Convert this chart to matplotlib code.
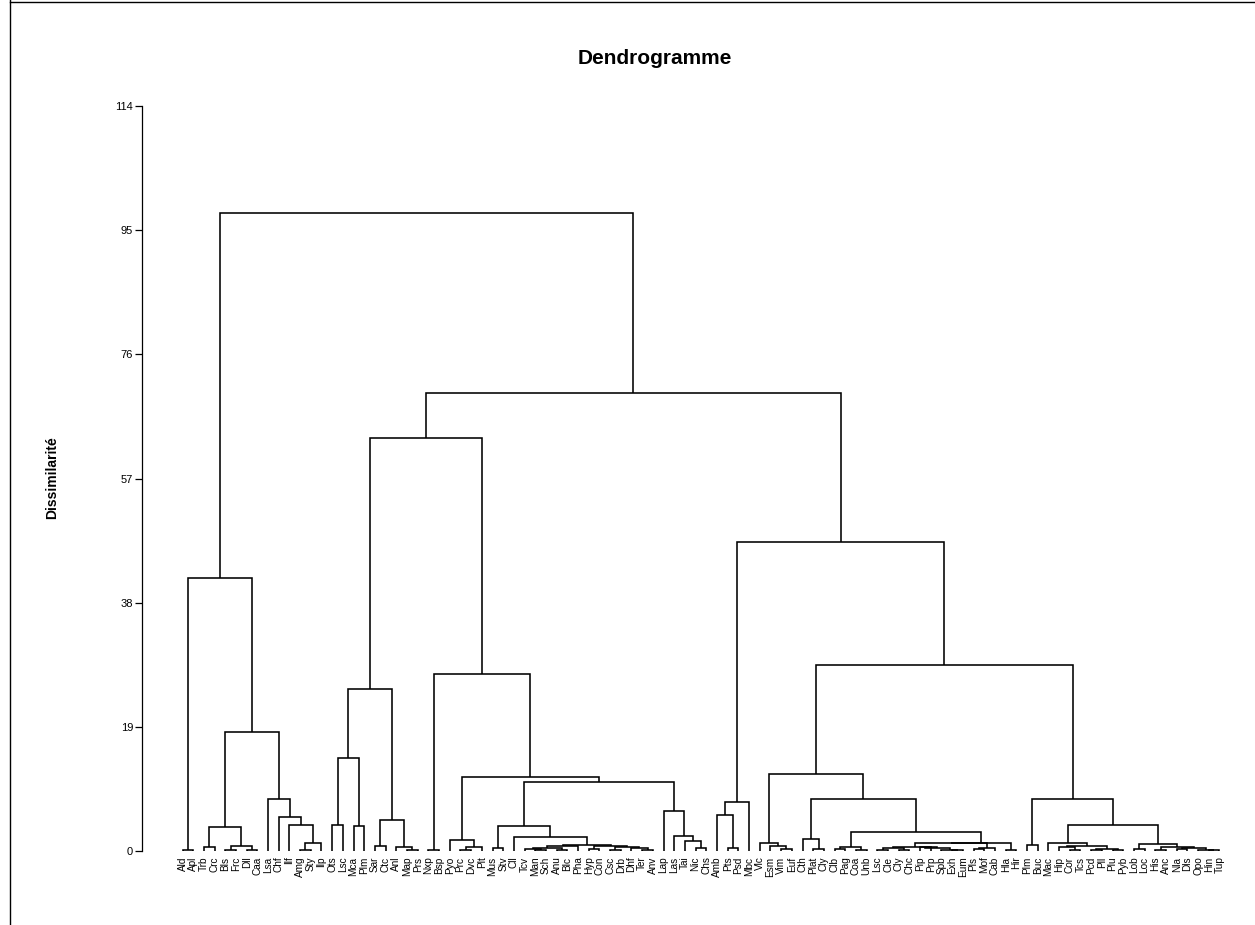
import matplotlib
matplotlib.use("Agg")
import matplotlib.pyplot as plt

plt.rcParams['font.family'] = ['Liberation Sans', 'DejaVu Sans']

title = "Dendrogramme"
ylabel = "Dissimilarité"
yticks = [0, 19, 38, 57, 76, 95, 114]

leaf_labels = [
    "Ald", "Apl", "Trb", "Crc", "Bls", "Frc", "Dll", "Caa", "Lsa", "Chf",
    "Ilf", "Amg", "Sty", "Ilp", "Ots", "Lsc", "Mca", "Plm", "Sar", "Ctc",
    "Anl", "Map", "Prs", "Nxp", "Bsp", "Pyo", "Prc", "Dvc", "Plt", "Mus",
    "Stv", "Cll", "Tcv", "Man", "Sch", "Anu", "Blc", "Pha", "Hyp", "Con",
    "Csc", "Drb", "Dhf", "Ter", "Anv", "Lap", "Las", "Tai", "Nic", "Chs",
    "Amb", "Pts", "Psd", "Mbc", "Vlc", "Esm", "Vim", "Euf", "Cth", "Plat",
    "Cly", "Clb", "Pag", "Coa", "Unb", "Lsc", "Cle", "Cly", "Chc", "Pip",
    "Prp", "Spb", "Exh", "Eum", "Pls", "Mof", "Cab", "Hla", "Hir", "Plm",
    "Buc", "Mac", "Hip", "Cor", "Tcs", "Pcd", "Pll", "Plu", "Pyb", "Lob",
    "Loc", "His", "Anc", "Nla", "Dls", "Opo", "Hin", "Tup",
]

# merges: (name, left, right, height); int = leaf index, str = earlier merge
merges_a = [
    ("a0", 0, 1, 0.1), ("a1", 2, 3, 0.66), ("a2", 4, 5, 0.1), ("a3", 6, 7, 0.15),
    ("a4", "a2", "a3", 0.76), ("a5", "a1", "a4", 3.6), ("a6", 11, 12, 0.1),
    ("a7", "a6", 13, 1.27), ("a8", 10, "a7", 4.0), ("a9", 9, "a8", 5.2),
    ("a10", 8, "a9", 8.0), ("a11", "a5", "a10", 18.2), ("a12", "a0", "a11", 41.8),
]
merges_b = [
    ("b0", 14, 15, 4.0), ("b1", 16, 17, 3.8), ("b2", "b0", "b1", 14.3),
    ("b3", 18, 19, 0.76), ("b4", 21, 22, 0.2), ("b5", 20, "b4", 0.56),
    ("b6", "b3", "b5", 4.8), ("b7", "b2", "b6", 24.8),
]
merges_c = [
    ("c0", 23, 24, 0.2), ("c1", 26, 27, 0.2), ("c2", "c1", 28, 0.65),
    ("c3", 25, "c2", 1.7), ("c4", 29, 30, 0.4), ("c5", 33, 34, 0.15),
    ("c6", 32, "c5", 0.35), ("c7", 35, 36, 0.2), ("c8", "c6", "c7", 0.5),
    ("c9", "c8", 37, 0.75), ("c10", 38, 39, 0.3), ("c11", 40, 41, 0.15),
    ("c12", 43, 44, 0.2), ("c13", 42, "c12", 0.4), ("c14", "c11", "c13", 0.55),
    ("c15", "c10", "c14", 0.7), ("c16", "c9", "c15", 0.95), ("c17", 31, "c16", 2.2),
    ("c18", "c4", "c17", 3.8), ("c19", 48, 49, 0.5), ("c20", 47, "c19", 1.5),
    ("c21", 46, "c20", 2.3), ("c22", 45, "c21", 6.1), ("c23", "c18", "c22", 10.5),
    ("c24", "c3", "c23", 11.4), ("c25", "c0", "c24", 27.1), ("c26", "b7", "c25", 63.2),
]
merges_d = [
    ("d0", 51, 52, 0.4), ("d1", 50, "d0", 5.5), ("d2", "d1", 53, 7.5),
    ("d3", 56, 57, 0.25), ("d4", 55, "d3", 0.76), ("d5", 54, "d4", 1.15),
    ("d6", 59, 60, 0.3), ("d7", 58, "d6", 1.9), ("d8", 61, 62, 0.3),
    ("d9", 63, 64, 0.1), ("d10", "d8", "d9", 0.55), ("d11", 65, 66, 0.1),
    ("d12", 67, 68, 0.15), ("d13", "d11", "d12", 0.4), ("d14", 69, 70, 0.6),
    ("d15", 72, 73, 0.1), ("d16", 71, "d15", 0.2), ("d17", "d14", "d16", 0.45),
    ("d18", "d13", "d17", 0.55), ("d19", 74, 75, 0.3), ("d20", "d19", 76, 0.45),
    ("d21", "d18", "d20", 1.2), ("d22", 77, 78, 0.2), ("d23", "d21", "d22", 1.3),
    ("d24", "d10", "d23", 2.9), ("d25", "d7", "d24", 8.0), ("d26", "d5", "d25", 11.8),
]
merges_e = [
    ("e0", 79, 80, 0.9), ("e1", 83, 84, 0.1), ("e2", 82, "e1", 0.55),
    ("e3", 85, 86, 0.1), ("e4", 87, 88, 0.15), ("e5", "e3", "e4", 0.3),
    ("e6", "e2", "e5", 0.7), ("e7", 81, "e6", 1.15), ("e8", 89, 90, 0.3),
    ("e9", 91, 92, 0.2), ("e10", 93, 94, 0.3), ("e11", 96, 97, 0.15),
    ("e12", 95, "e11", 0.2), ("e13", "e10", "e12", 0.5), ("e14", "e9", "e13", 0.6),
    ("e15", "e8", "e14", 1.0), ("e16", "e7", "e15", 4.0), ("e17", "e0", "e16", 8.0),
]
merges_top = [
    ("d27", "d26", "e17", 28.5), ("d28", "d2", "d27", 47.3),
    ("t0", "c26", "d28", 70.1), ("root", "a12", "t0", 97.6),
]

merges = merges_a + merges_b + merges_c + merges_d + merges_e + merges_top

W, H = 1255, 925
fig = plt.figure(figsize=(W / 100, H / 100), dpi=100)
fig.patch.set_facecolor("white")

# frame around picture (screenshot border)
fig.add_artist(plt.Line2D([10 / W, 10 / W], [0, 1], color="black", lw=1.0))
fig.add_artist(plt.Line2D([10 / W, 1], [1 - 1.5 / H, 1 - 1.5 / H], color="black", lw=1.0))

ax = fig.add_axes([142 / W, (H - 851) / H, (1240 - 142) / W, (851 - 106) / H])
n = len(leaf_labels)
spacing = 10.69
ax.set_xlim(-(182.5 - 142) / spacing, (1240 - 182.5) / spacing)
ax.set_ylim(0, 114)

pos = {i: float(i) for i in range(n)}
hgt = {i: 0.0 for i in range(n)}
for name, l, r, h in merges:
    xl, xr = pos[l], pos[r]
    ax.plot([xl, xl, xr, xr], [hgt[l], h, h, hgt[r]], color="black", lw=1.15,
            solid_joinstyle="miter", solid_capstyle="butt", clip_on=False)
    pos[name] = (xl + xr) / 2
    hgt[name] = h

for sp in ["top", "right", "bottom"]:
    ax.spines[sp].set_visible(False)
ax.spines["left"].set_linewidth(0.9)
ax.set_yticks(yticks)
ax.set_yticklabels([str(v) for v in yticks], fontsize=8)
ax.tick_params(axis="y", direction="out", length=5, width=0.9, pad=1.5)
ax.set_xticks(range(n))
ax.set_xticklabels(leaf_labels, rotation=90, fontsize=7.2, va="top", ha="center")
ax.tick_params(axis="x", length=0, pad=4)

fig.text(655 / W, 1 - 58 / H, title, ha="center", va="center",
         fontsize=15, fontweight="bold")
fig.text(52 / W, 1 - 478 / H, ylabel, ha="center", va="center", rotation=90,
         fontsize=10, fontweight="bold")

fig.savefig("out.png", dpi=100, facecolor="white")
